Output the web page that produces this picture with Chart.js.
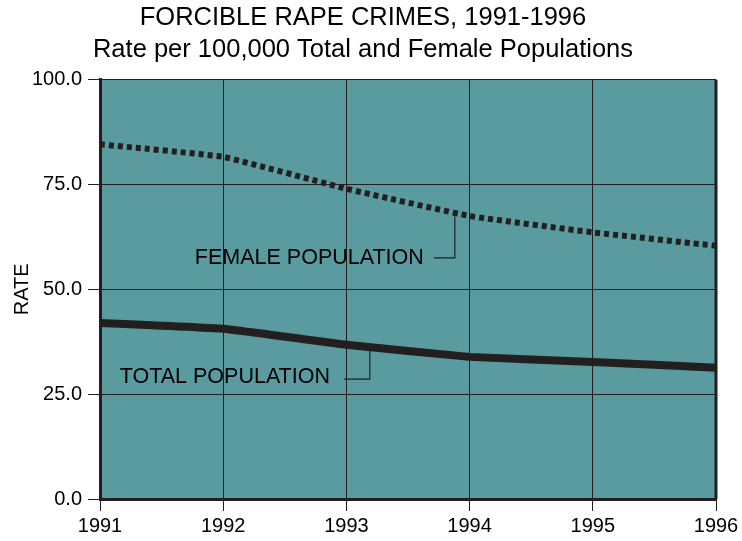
<!DOCTYPE html>
<html>
<head>
<meta charset="utf-8">
<script src="https://cdn.jsdelivr.net/npm/chart.js@4"></script>
<style>
  html, body { margin: 0; padding: 0; background: #fff; }
  #wrap { width: 742px; height: 541px; }
</style>
</head>
<body>
<div id="wrap"><canvas id="rapeChart" width="742" height="541"></canvas></div>
<script>
// years and rates per 100,000
var years = [1991, 1992, 1993, 1994, 1995, 1996];
var femaleRate = [84.6, 81.6, 74.0, 67.5, 63.6, 60.4];
var totalRate = [42.0, 40.6, 36.8, 33.9, 32.7, 31.3];
var yTicks = [0, 25, 50, 75, 100];

// label text and where it sits (year, rate), plus leader line points
var labels = [
  { text: 'FEMALE POPULATION', x: 1991.77, y: 57.5,
    leader: [[1993.71, 57.5], [1993.88, 57.5], [1993.88, 67.4]] },
  { text: 'TOTAL POPULATION', x: 1991.16, y: 29.1,
    leader: [[1992.98, 28.6], [1993.19, 28.6], [1993.19, 35.4]] }
];

var fuente = '"Liberation Sans", Arial, sans-serif';

var fondo = {
  id: 'fondo',
  beforeDraw: function (chart) {
    var a = chart.chartArea, ctx = chart.ctx;
    ctx.save();
    ctx.fillStyle = '#5a9ba0';
    ctx.fillRect(a.left, a.top, a.right - a.left, a.bottom - a.top);
    ctx.restore();
  },
  afterDatasetsDraw: function (chart) {
    var a = chart.chartArea, ctx = chart.ctx;
    var sx = chart.scales.x, sy = chart.scales.y;
    ctx.save();
    // right border
    ctx.strokeStyle = '#231f20';
    ctx.lineWidth = 3;
    ctx.beginPath();
    ctx.moveTo(a.right, a.top);
    ctx.lineTo(a.right, a.bottom);
    ctx.stroke();
    // labels
    ctx.fillStyle = '#000';
    ctx.font = '21.5px ' + fuente;
    ctx.textBaseline = 'middle';
    ctx.textAlign = 'left';
    ctx.lineWidth = 1.2;
    labels.forEach(function (l) {
      ctx.fillText(l.text, sx.getPixelForValue(l.x), sy.getPixelForValue(l.y));
      ctx.beginPath();
      l.leader.forEach(function (p, i) {
        var px = sx.getPixelForValue(p[0]), py = sy.getPixelForValue(p[1]);
        if (i === 0) ctx.moveTo(px, py); else ctx.lineTo(px, py);
      });
      ctx.stroke();
    });
    ctx.restore();
  }
};

var ctx = document.getElementById('rapeChart').getContext('2d');
var rapeChart = new Chart(ctx, {
  type: 'line',
  data: {
    datasets: [{
      label: 'Female Population',
      data: years.map(function (y, i) { return { x: y, y: femaleRate[i] }; }),
      borderColor: '#231f20',
      borderWidth: 6,
      borderDash: [5, 4],
      borderCapStyle: 'butt',
      pointRadius: 0,
      tension: 0.1,
      fill: false
    }, {
      label: 'Total Population',
      data: years.map(function (y, i) { return { x: y, y: totalRate[i] }; }),
      borderColor: '#231f20',
      borderWidth: 8,
      borderCapStyle: 'butt',
      pointRadius: 0,
      tension: 0.1,
      fill: false
    }]
  },
  options: {
    responsive: false,
    animation: false,
    layout: { padding: { left: 10, right: 26, top: 0, bottom: 0 } },
    plugins: {
      legend: { display: false },
      tooltip: { enabled: false },
      title: {
        display: true,
        text: ['FORCIBLE RAPE CRIMES, 1991-1996', 'Rate per 100,000 Total and Female Populations'],
        color: '#000',
        font: { family: fuente, size: 25.5, weight: 'normal', lineHeight: 1.25 },
        padding: { top: 2, bottom: 14 }
      }
    },
    scales: {
      x: {
        type: 'linear',
        min: 1991,
        max: 1996,
        ticks: {
          stepSize: 1,
          color: '#000',
          font: { family: fuente, size: 20 },
          callback: function (v) { return String(v); },
          maxRotation: 0,
          padding: 3
        },
        grid: { color: '#231f20', lineWidth: 1, tickLength: 12 },
        border: { color: '#231f20', width: 3 }
      },
      y: {
        min: 0,
        max: 100,
        afterBuildTicks: function (axis) {
          axis.ticks = yTicks.map(function (v) { return { value: v }; });
        },
        afterFit: function (axis) {
          axis.width = 90;
        },
        ticks: {
          color: '#000',
          font: { family: fuente, size: 20 },
          callback: function (v) { return v.toFixed(1); },
          padding: 6
        },
        title: {
          display: true,
          text: 'RATE',
          color: '#000',
          font: { family: fuente, size: 20 },
          padding: { top: 0, bottom: 6 }
        },
        grid: { color: '#231f20', lineWidth: 1, tickLength: 12 },
        border: { color: '#231f20', width: 3 }
      }
    }
  },
  plugins: [fondo]
});
</script>
</body>
</html>
